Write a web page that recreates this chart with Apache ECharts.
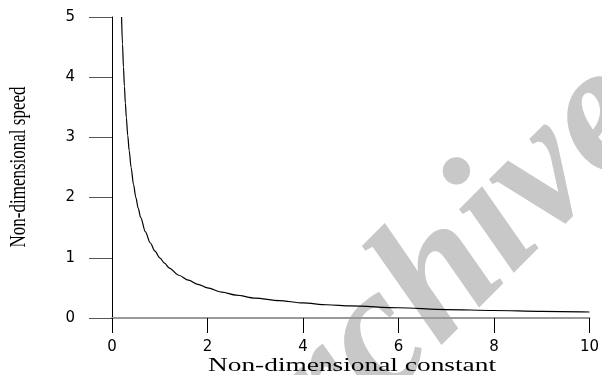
<!DOCTYPE html>
<html>
<head>
<meta charset="utf-8">
<script src="https://cdn.jsdelivr.net/npm/echarts@6/dist/echarts.min.js"></script>
<style>html,body{margin:0;padding:0;background:#fff}#c{width:602px;height:375px}</style>
</head>
<body>
<div id="c"></div>
<script>
var xValues = [0.2,0.22,0.24,0.26,0.28,0.3,0.33,0.36,0.4,0.45,0.5,0.55,0.6,0.7,0.8,0.9,1.0,1.1,1.2,1.4,1.6,1.8,2.0,2.3,2.6,3.0,3.5,4.0,4.5,5.0,6.0,7.0,8.0,9.0,10.0];
var yValues = [5.0,4.55,4.17,3.85,3.57,3.33,3.03,2.78,2.5,2.22,2.0,1.82,1.67,1.43,1.25,1.11,1.0,0.91,0.83,0.71,0.63,0.56,0.5,0.43,0.38,0.33,0.29,0.25,0.22,0.2,0.17,0.14,0.125,0.11,0.1];
var xTicks = [0,2,4,6,8,10];
var yTicks = [0,1,2,3,4,5];
var xTitle = 'Non-dimensional constant';
var yTitle = 'Non-dimensional speed';
var watermark = 'Archive';

var chart = echarts.init(document.getElementById('c'));
var pts = xValues.map(function(x,i){return [x,yValues[i]];});
chart.setOption({
  animation:false,
  backgroundColor:'#fff',
  grid:{left:112,right:10,top:17,bottom:57,containLabel:false},
  xAxis:{
    type:'value',min:xTicks[0],max:xTicks[xTicks.length-1],interval:2,
    axisLine:{show:true,lineStyle:{color:'#999',width:2}},
    axisTick:{show:true,length:15,lineStyle:{color:'#000',width:1}},
    axisLabel:{show:true,margin:22,fontFamily:'DejaVu Sans',fontSize:15,color:'#000',
      formatter:function(v){return String(v);}},
    splitLine:{show:false}
  },
  yAxis:{
    type:'value',min:yTicks[0],max:yTicks[yTicks.length-1],interval:1,
    axisLine:{show:true,lineStyle:{color:'#000',width:1}},
    axisTick:{show:true,length:23,lineStyle:{color:'#555',width:1}},
    axisLabel:{show:true,margin:37,fontFamily:'DejaVu Sans',fontSize:15,color:'#000'},
    splitLine:{show:false}
  },
  graphic:[
    {type:'text',z:-10,x:420,y:300,rotation:Math.PI/4,
      style:{text:watermark,font:'italic bold 182px "Liberation Serif"',fill:'#c8c8c8',align:'center',verticalAlign:'middle'}},
    {type:'text',z:10,x:352,y:366,scaleX:1.52,
      style:{text:xTitle,font:'18px "Liberation Serif"',fill:'#000',align:'center',verticalAlign:'middle'}},
    {type:'text',z:10,x:19,y:167,rotation:Math.PI/2,scaleY:1.35,
      style:{text:yTitle,font:'17px "Liberation Serif"',fill:'#000',align:'center',verticalAlign:'middle'}}
  ],
  series:[{
    type:'line',data:pts,showSymbol:false,smooth:0.3,smoothMonotone:'x',
    lineStyle:{color:'#000',width:1.2},z:5
  }]
});
</script>
</body>
</html>
